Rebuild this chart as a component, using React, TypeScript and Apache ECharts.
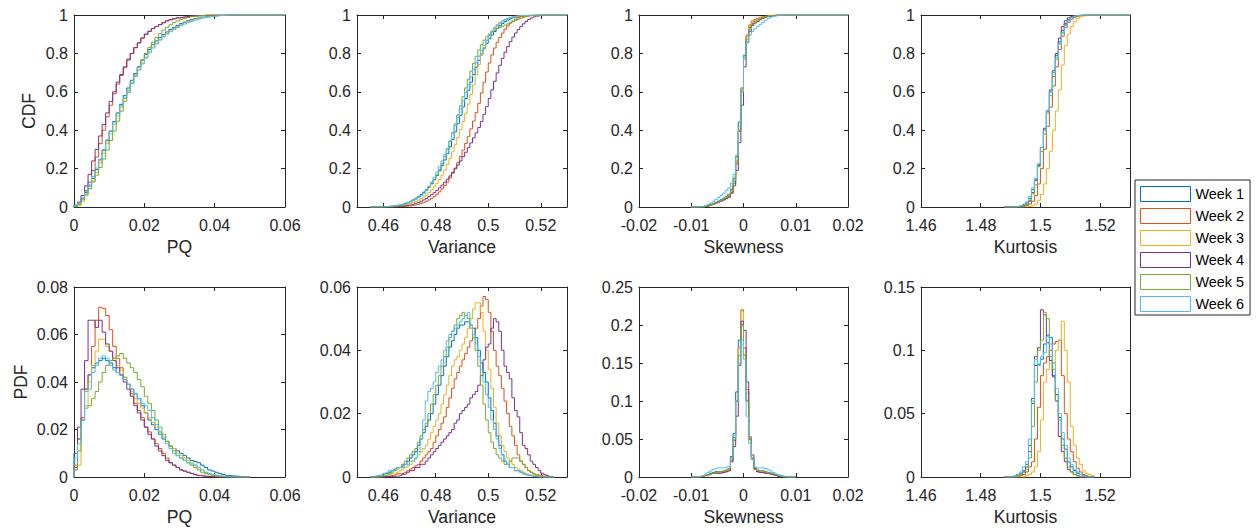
import React, { useEffect, useRef } from "react";
import * as echarts from "echarts";

// ---------- labels, colours, ticks ----------
const weekNames = ["Week 1", "Week 2", "Week 3", "Week 4", "Week 5", "Week 6"];
const weekColors = ["#0072BD", "#D95319", "#EDB120", "#7E2F8E", "#77AC30", "#4DBEEE"];
const metricNames = ["PQ", "Variance", "Skewness", "Kurtosis"];
const xMins = [0, 0.45, -0.02, 1.46];
const xMaxs = [0.06, 0.53, 0.02, 1.53];
const xTickValues = [
  [0, 0.02, 0.04, 0.06],
  [0.46, 0.48, 0.5, 0.52],
  [-0.02, -0.01, 0, 0.01, 0.02],
  [1.46, 1.48, 1.5, 1.52],
];
const cdfTickValues = [0, 0.2, 0.4, 0.6, 0.8, 1];
const pdfMaxs = [0.08, 0.06, 0.25, 0.15];
const pdfTickValues = [
  [0, 0.02, 0.04, 0.06, 0.08],
  [0, 0.02, 0.04, 0.06],
  [0, 0.05, 0.1, 0.15, 0.2, 0.25],
  [0, 0.05, 0.1, 0.15],
];
// histogram bins: first edge and width per metric
const binStarts = [0, 0.455, -0.01, 1.488];
const binWidths = [0.001, 0.001, 0.0005, 0.001];

// ---------- PQ ----------
const pqPdf = [
  [0.010, 0.016, 0.024, 0.037, 0.043, 0.046, 0.048, 0.049, 0.050, 0.049, 0.048, 0.046, 0.044, 0.043, 0.041, 0.039, 0.037, 0.035, 0.033, 0.030, 0.027, 0.024, 0.022, 0.020, 0.018, 0.016, 0.015, 0.013, 0.012, 0.011, 0.010, 0.009, 0.008, 0.007, 0.0065, 0.006, 0.005, 0.004, 0.003, 0.0025, 0.002, 0.0015, 0.001, 0.0007, 0.0005, 0.0004, 0.0003, 0.0002, 0.0001, 0.0001],
  [0.005, 0.016, 0.025, 0.037, 0.043, 0.055, 0.066, 0.0715, 0.071, 0.068, 0.062, 0.055, 0.050, 0.046, 0.042, 0.039, 0.035, 0.031, 0.028, 0.025, 0.021, 0.019, 0.016, 0.014, 0.012, 0.010, 0.008, 0.006, 0.005, 0.004, 0.003, 0.0025, 0.002, 0.0015, 0.001, 0.0007, 0.0005, 0.0003, 0.0002, 0.0001, 0.0001, 0, 0, 0, 0, 0, 0, 0, 0, 0],
  [0.003, 0.005, 0.024, 0.030, 0.040, 0.047, 0.053, 0.058, 0.058, 0.055, 0.053, 0.050, 0.047, 0.045, 0.042, 0.039, 0.036, 0.033, 0.031, 0.029, 0.027, 0.025, 0.023, 0.021, 0.019, 0.017, 0.015, 0.013, 0.012, 0.010, 0.009, 0.008, 0.007, 0.006, 0.005, 0.004, 0.003, 0.002, 0.0015, 0.001, 0.0008, 0.0005, 0.0003, 0.0002, 0.0001, 0.0001, 0, 0, 0, 0],
  [0.004, 0.021, 0.037, 0.049, 0.066, 0.066, 0.063, 0.066, 0.061, 0.056, 0.053, 0.049, 0.046, 0.043, 0.040, 0.037, 0.034, 0.030, 0.027, 0.024, 0.021, 0.018, 0.016, 0.013, 0.011, 0.009, 0.007, 0.006, 0.005, 0.004, 0.003, 0.0025, 0.002, 0.0015, 0.001, 0.0006, 0.0004, 0.0002, 0.0001, 0.0001, 0, 0, 0, 0, 0, 0, 0, 0, 0, 0],
  [0.003, 0.011, 0.024, 0.029, 0.030, 0.033, 0.036, 0.040, 0.044, 0.047, 0.049, 0.050, 0.051, 0.052, 0.050, 0.048, 0.046, 0.044, 0.041, 0.038, 0.034, 0.031, 0.028, 0.024, 0.021, 0.018, 0.015, 0.013, 0.011, 0.009, 0.008, 0.007, 0.006, 0.005, 0.004, 0.003, 0.002, 0.0015, 0.001, 0.0007, 0.0004, 0.0002, 0.0001, 0, 0, 0, 0, 0, 0, 0],
  [0.008, 0.014, 0.024, 0.036, 0.037, 0.044, 0.047, 0.050, 0.051, 0.050, 0.047, 0.045, 0.044, 0.043, 0.041, 0.039, 0.037, 0.035, 0.033, 0.031, 0.030, 0.028, 0.025, 0.022, 0.019, 0.016, 0.014, 0.012, 0.010, 0.009, 0.008, 0.007, 0.006, 0.0055, 0.005, 0.004, 0.003, 0.002, 0.0015, 0.001, 0.0007, 0.0004, 0.0002, 0.0001, 0, 0, 0, 0, 0, 0],
];
const pqCdf = [
  [0.01, 0.024, 0.045, 0.075, 0.11, 0.15, 0.195, 0.245, 0.295, 0.345, 0.395, 0.445, 0.49, 0.535, 0.58, 0.62, 0.66, 0.695, 0.73, 0.765, 0.795, 0.82, 0.845, 0.865, 0.882, 0.898, 0.912, 0.925, 0.936, 0.946, 0.955, 0.963, 0.97, 0.976, 0.981, 0.985, 0.989, 0.992, 0.994, 0.996, 0.997, 0.998, 0.999, 0.9995, 1],
  [0.005, 0.02, 0.045, 0.085, 0.13, 0.19, 0.26, 0.33, 0.40, 0.47, 0.53, 0.59, 0.64, 0.685, 0.725, 0.765, 0.80, 0.83, 0.855, 0.88, 0.90, 0.915, 0.93, 0.94, 0.95, 0.96, 0.97, 0.976, 0.981, 0.985, 0.988, 0.991, 0.993, 0.995, 0.996, 0.997, 0.998, 0.999, 0.9995, 1, 1, 1, 1, 1, 1],
  [0.003, 0.008, 0.03, 0.06, 0.095, 0.135, 0.18, 0.23, 0.28, 0.33, 0.38, 0.43, 0.475, 0.52, 0.565, 0.605, 0.645, 0.68, 0.715, 0.75, 0.78, 0.808, 0.832, 0.853, 0.872, 0.889, 0.904, 0.917, 0.929, 0.94, 0.95, 0.958, 0.966, 0.972, 0.978, 0.983, 0.987, 0.99, 0.993, 0.995, 0.997, 0.998, 0.999, 0.9995, 1],
  [0.005, 0.025, 0.06, 0.11, 0.17, 0.24, 0.30, 0.37, 0.43, 0.49, 0.55, 0.60, 0.65, 0.69, 0.73, 0.77, 0.80, 0.83, 0.855, 0.88, 0.90, 0.915, 0.93, 0.94, 0.95, 0.96, 0.97, 0.975, 0.98, 0.985, 0.988, 0.991, 0.993, 0.995, 0.996, 0.997, 0.998, 0.999, 0.9995, 1, 1, 1, 1, 1, 1],
  [0.003, 0.014, 0.038, 0.067, 0.097, 0.13, 0.166, 0.206, 0.25, 0.297, 0.346, 0.396, 0.447, 0.499, 0.549, 0.597, 0.643, 0.687, 0.728, 0.766, 0.80, 0.83, 0.858, 0.882, 0.903, 0.921, 0.936, 0.949, 0.96, 0.969, 0.976, 0.982, 0.987, 0.991, 0.994, 0.996, 0.998, 0.999, 0.9995, 1, 1, 1, 1, 1, 1],
  [0.008, 0.022, 0.046, 0.08, 0.115, 0.158, 0.203, 0.25, 0.3, 0.35, 0.397, 0.442, 0.486, 0.529, 0.57, 0.609, 0.646, 0.681, 0.714, 0.745, 0.775, 0.803, 0.828, 0.85, 0.869, 0.886, 0.9, 0.913, 0.925, 0.935, 0.945, 0.953, 0.96, 0.967, 0.973, 0.978, 0.983, 0.987, 0.99, 0.993, 0.995, 0.997, 0.998, 0.999, 1],
];

// ---------- Variance ----------
const varPdf = [
  [0, 0.0002, 0.0003, 0.0005, 0.0007, 0.001, 0.0012, 0.0015, 0.002, 0.0025, 0.003, 0.003, 0.0035, 0.004, 0.005, 0.006, 0.007, 0.008, 0.010, 0.012, 0.014, 0.016, 0.018, 0.020, 0.023, 0.026, 0.029, 0.032, 0.035, 0.038, 0.041, 0.043, 0.045, 0.047, 0.048, 0.048, 0.049, 0.049, 0.048, 0.047, 0.044, 0.040, 0.036, 0.033, 0.030, 0.025, 0.021, 0.017, 0.013, 0.010, 0.007, 0.005, 0.004, 0.003, 0.003, 0.002, 0.002, 0.0015, 0.001, 0.0008, 0.0005, 0.0003, 0.0002, 0, 0, 0, 0, 0, 0, 0],
  [0, 0, 0, 0, 0, 0.0002, 0.0003, 0.0004, 0.0005, 0.0007, 0.001, 0.001, 0.0012, 0.0015, 0.002, 0.0025, 0.003, 0.0035, 0.004, 0.005, 0.006, 0.007, 0.008, 0.009, 0.011, 0.013, 0.015, 0.017, 0.019, 0.022, 0.025, 0.028, 0.031, 0.033, 0.035, 0.037, 0.039, 0.041, 0.043, 0.045, 0.047, 0.050, 0.054, 0.057, 0.056, 0.052, 0.046, 0.040, 0.035, 0.032, 0.028, 0.024, 0.020, 0.016, 0.013, 0.010, 0.007, 0.005, 0.004, 0.003, 0.002, 0.0015, 0.001, 0.0007, 0.0005, 0.0003, 0.0002, 0, 0, 0],
  [0, 0, 0, 0, 0.0002, 0.0003, 0.0005, 0.0007, 0.001, 0.0012, 0.0015, 0.002, 0.0025, 0.003, 0.0035, 0.004, 0.005, 0.006, 0.007, 0.008, 0.009, 0.010, 0.012, 0.014, 0.016, 0.018, 0.020, 0.023, 0.026, 0.029, 0.032, 0.035, 0.037, 0.038, 0.040, 0.042, 0.044, 0.047, 0.050, 0.053, 0.055, 0.055, 0.052, 0.046, 0.040, 0.034, 0.028, 0.022, 0.017, 0.013, 0.010, 0.008, 0.006, 0.005, 0.004, 0.003, 0.0025, 0.002, 0.0015, 0.001, 0.0007, 0.0005, 0.0003, 0.0002, 0, 0, 0, 0, 0, 0],
  [0, 0, 0, 0, 0, 0.0001, 0.0001, 0.0002, 0.0002, 0.0003, 0.0003, 0.0005, 0.0008, 0.001, 0.0015, 0.002, 0.002, 0.003, 0.003, 0.004, 0.004, 0.005, 0.006, 0.007, 0.008, 0.009, 0.010, 0.011, 0.012, 0.013, 0.014, 0.015, 0.017, 0.018, 0.020, 0.021, 0.022, 0.023, 0.025, 0.026, 0.027, 0.029, 0.032, 0.037, 0.041, 0.042, 0.047, 0.050, 0.049, 0.046, 0.040, 0.035, 0.033, 0.031, 0.025, 0.021, 0.019, 0.014, 0.010, 0.009, 0.007, 0.005, 0.004, 0.003, 0.002, 0.0012, 0.0008, 0.0005, 0.0002, 0.0001],
  [0, 0, 0, 0.0002, 0.0003, 0.0005, 0.0007, 0.001, 0.0015, 0.002, 0.0025, 0.003, 0.004, 0.005, 0.006, 0.007, 0.008, 0.009, 0.011, 0.013, 0.015, 0.017, 0.020, 0.023, 0.026, 0.029, 0.032, 0.035, 0.038, 0.041, 0.044, 0.046, 0.048, 0.050, 0.051, 0.052, 0.051, 0.050, 0.047, 0.044, 0.040, 0.035, 0.029, 0.023, 0.018, 0.014, 0.011, 0.009, 0.007, 0.006, 0.005, 0.004, 0.004, 0.005, 0.006, 0.006, 0.006, 0.005, 0.004, 0.003, 0.002, 0.0015, 0.001, 0.0005, 0.0003, 0.0002, 0, 0, 0, 0],
  [0, 0, 0.0003, 0.0005, 0.0007, 0.001, 0.0015, 0.002, 0.002, 0.0025, 0.003, 0.003, 0.003, 0.004, 0.004, 0.005, 0.005, 0.006, 0.008, 0.012, 0.018, 0.024, 0.027, 0.028, 0.030, 0.033, 0.035, 0.037, 0.040, 0.043, 0.045, 0.046, 0.047, 0.048, 0.049, 0.050, 0.051, 0.052, 0.048, 0.045, 0.042, 0.038, 0.034, 0.030, 0.026, 0.022, 0.018, 0.015, 0.012, 0.009, 0.007, 0.005, 0.004, 0.003, 0.003, 0.002, 0.002, 0.0015, 0.001, 0.0007, 0.0005, 0.0003, 0.0002, 0, 0, 0, 0, 0, 0, 0],
];
const varCdf = [
  [0, 0.0002, 0.0005, 0.001, 0.0015, 0.002, 0.003, 0.004, 0.005, 0.007, 0.009, 0.012, 0.015, 0.019, 0.024, 0.030, 0.037, 0.045, 0.054, 0.065, 0.077, 0.09, 0.105, 0.122, 0.142, 0.164, 0.188, 0.215, 0.245, 0.278, 0.314, 0.352, 0.392, 0.434, 0.477, 0.521, 0.565, 0.608, 0.65, 0.69, 0.728, 0.764, 0.797, 0.827, 0.853, 0.876, 0.896, 0.914, 0.93, 0.944, 0.956, 0.966, 0.974, 0.98, 0.985, 0.989, 0.992, 0.994, 0.996, 0.997, 0.998, 0.999, 0.9995, 1, 1, 1, 1, 1, 1, 1],
  [0, 0, 0, 0, 0, 0, 0.0002, 0.0004, 0.0006, 0.001, 0.0015, 0.002, 0.003, 0.004, 0.005, 0.007, 0.009, 0.012, 0.015, 0.019, 0.024, 0.03, 0.037, 0.045, 0.055, 0.066, 0.079, 0.094, 0.111, 0.13, 0.152, 0.176, 0.203, 0.232, 0.263, 0.296, 0.331, 0.368, 0.407, 0.448, 0.492, 0.54, 0.594, 0.65, 0.703, 0.75, 0.792, 0.828, 0.858, 0.883, 0.906, 0.926, 0.944, 0.958, 0.969, 0.978, 0.985, 0.99, 0.993, 0.995, 0.997, 0.998, 0.999, 0.9995, 1, 1, 1, 1, 1, 1],
  [0, 0, 0, 0.0002, 0.0004, 0.0007, 0.001, 0.0015, 0.002, 0.003, 0.004, 0.006, 0.008, 0.011, 0.014, 0.018, 0.023, 0.029, 0.036, 0.044, 0.053, 0.063, 0.075, 0.089, 0.105, 0.123, 0.143, 0.166, 0.192, 0.221, 0.253, 0.288, 0.325, 0.363, 0.403, 0.445, 0.489, 0.536, 0.586, 0.637, 0.69, 0.742, 0.79, 0.832, 0.868, 0.896, 0.918, 0.936, 0.95, 0.961, 0.97, 0.977, 0.983, 0.987, 0.99, 0.993, 0.995, 0.996, 0.997, 0.998, 0.999, 0.9995, 1, 1, 1, 1, 1, 1, 1, 1],
  [0, 0, 0, 0, 0.0002, 0.0004, 0.0006, 0.001, 0.0015, 0.002, 0.003, 0.004, 0.005, 0.007, 0.009, 0.012, 0.015, 0.019, 0.024, 0.03, 0.037, 0.045, 0.054, 0.064, 0.075, 0.087, 0.1, 0.114, 0.129, 0.145, 0.162, 0.18, 0.199, 0.219, 0.24, 0.262, 0.285, 0.309, 0.334, 0.36, 0.386, 0.414, 0.446, 0.483, 0.523, 0.565, 0.61, 0.655, 0.698, 0.738, 0.774, 0.806, 0.835, 0.861, 0.885, 0.906, 0.924, 0.94, 0.954, 0.966, 0.976, 0.984, 0.99, 0.994, 0.997, 0.999, 1, 1, 1, 1],
  [0, 0, 0.0002, 0.0004, 0.0007, 0.001, 0.0015, 0.002, 0.003, 0.004, 0.006, 0.008, 0.011, 0.015, 0.020, 0.026, 0.033, 0.041, 0.050, 0.060, 0.072, 0.086, 0.102, 0.12, 0.142, 0.167, 0.195, 0.227, 0.262, 0.30, 0.342, 0.387, 0.433, 0.48, 0.527, 0.574, 0.62, 0.665, 0.708, 0.748, 0.785, 0.818, 0.846, 0.869, 0.887, 0.901, 0.912, 0.921, 0.929, 0.936, 0.942, 0.948, 0.954, 0.96, 0.966, 0.972, 0.978, 0.983, 0.988, 0.992, 0.995, 0.997, 0.998, 0.999, 1, 1, 1, 1, 1, 1],
  [0, 0.0003, 0.0006, 0.001, 0.0015, 0.002, 0.003, 0.004, 0.006, 0.008, 0.010, 0.013, 0.016, 0.020, 0.024, 0.029, 0.035, 0.042, 0.050, 0.060, 0.072, 0.088, 0.108, 0.13, 0.155, 0.182, 0.21, 0.24, 0.272, 0.307, 0.345, 0.385, 0.425, 0.467, 0.51, 0.553, 0.596, 0.638, 0.678, 0.716, 0.752, 0.785, 0.815, 0.843, 0.869, 0.892, 0.912, 0.93, 0.945, 0.958, 0.968, 0.977, 0.983, 0.988, 0.992, 0.995, 0.997, 0.998, 0.999, 1, 1, 1, 1, 1, 1, 1, 1, 1, 1, 1],
];

// ---------- Skewness ----------
const skewPdf = [
  [0, 0, 0, 0.0005, 0.001, 0.002, 0.003, 0.005, 0.006, 0.007, 0.007, 0.007, 0.008, 0.009, 0.011, 0.027, 0.057, 0.112, 0.180, 0.200, 0.160, 0.100, 0.050, 0.025, 0.012, 0.009, 0.008, 0.008, 0.007, 0.006, 0.005, 0.004, 0.003, 0.002, 0.001, 0.0005, 0, 0, 0, 0],
  [0, 0, 0, 0.0005, 0.001, 0.002, 0.003, 0.004, 0.005, 0.005, 0.005, 0.006, 0.006, 0.007, 0.009, 0.022, 0.048, 0.100, 0.170, 0.220, 0.170, 0.115, 0.053, 0.023, 0.010, 0.007, 0.006, 0.006, 0.005, 0.005, 0.004, 0.003, 0.002, 0.001, 0.0005, 0, 0, 0, 0, 0],
  [0, 0, 0, 0.0005, 0.001, 0.002, 0.003, 0.004, 0.005, 0.006, 0.006, 0.006, 0.007, 0.008, 0.010, 0.024, 0.050, 0.100, 0.170, 0.218, 0.170, 0.110, 0.050, 0.024, 0.011, 0.008, 0.007, 0.007, 0.006, 0.005, 0.004, 0.003, 0.002, 0.001, 0.0005, 0, 0, 0, 0, 0],
  [0, 0, 0, 0.0005, 0.001, 0.002, 0.003, 0.004, 0.005, 0.005, 0.005, 0.005, 0.006, 0.007, 0.008, 0.020, 0.040, 0.080, 0.147, 0.205, 0.193, 0.125, 0.050, 0.029, 0.011, 0.007, 0.006, 0.006, 0.005, 0.005, 0.004, 0.003, 0.002, 0.001, 0.0005, 0, 0, 0, 0, 0],
  [0, 0, 0, 0.0005, 0.001, 0.002, 0.003, 0.004, 0.005, 0.006, 0.007, 0.007, 0.008, 0.009, 0.011, 0.025, 0.052, 0.100, 0.160, 0.200, 0.160, 0.100, 0.050, 0.025, 0.012, 0.009, 0.008, 0.008, 0.007, 0.006, 0.005, 0.004, 0.003, 0.002, 0.001, 0.0005, 0, 0, 0, 0],
  [0, 0, 0.0005, 0.001, 0.002, 0.004, 0.006, 0.008, 0.010, 0.011, 0.012, 0.012, 0.012, 0.013, 0.014, 0.025, 0.050, 0.100, 0.150, 0.180, 0.155, 0.080, 0.044, 0.024, 0.013, 0.012, 0.012, 0.012, 0.011, 0.010, 0.008, 0.006, 0.004, 0.003, 0.002, 0.001, 0.0005, 0, 0, 0],
];
const skewCdf = [
  [0, 0, 0, 0.0005, 0.0015, 0.0035, 0.0065, 0.0115, 0.0175, 0.0245, 0.031, 0.038, 0.046, 0.055, 0.066, 0.093, 0.15, 0.262, 0.442, 0.62, 0.79, 0.89, 0.935, 0.957, 0.968, 0.975, 0.981, 0.987, 0.991, 0.994, 0.996, 0.998, 0.999, 0.9995, 1, 1, 1, 1, 1, 1],
  [0, 0, 0, 0.0005, 0.0015, 0.0035, 0.0065, 0.0105, 0.0155, 0.0205, 0.0255, 0.0315, 0.0375, 0.0445, 0.0535, 0.076, 0.124, 0.224, 0.394, 0.61, 0.78, 0.895, 0.948, 0.969, 0.977, 0.983, 0.988, 0.992, 0.995, 0.997, 0.998, 0.999, 0.9995, 1, 1, 1, 1, 1, 1, 1],
  [0, 0, 0, 0.0005, 0.0015, 0.0035, 0.0065, 0.0105, 0.0155, 0.0215, 0.0275, 0.0335, 0.0405, 0.0485, 0.0585, 0.082, 0.132, 0.232, 0.402, 0.615, 0.78, 0.89, 0.94, 0.962, 0.972, 0.979, 0.985, 0.99, 0.993, 0.996, 0.998, 0.999, 0.9995, 1, 1, 1, 1, 1, 1, 1],
  [0, 0, 0, 0.0005, 0.0015, 0.0035, 0.0065, 0.0105, 0.0155, 0.0205, 0.0255, 0.0305, 0.0365, 0.0435, 0.0515, 0.0715, 0.11, 0.19, 0.335, 0.53, 0.73, 0.86, 0.915, 0.945, 0.958, 0.967, 0.975, 0.982, 0.988, 0.992, 0.995, 0.997, 0.999, 1, 1, 1, 1, 1, 1, 1],
  [0, 0, 0, 0.0005, 0.0015, 0.0035, 0.0065, 0.0105, 0.0155, 0.0215, 0.0285, 0.0355, 0.0435, 0.0525, 0.0635, 0.088, 0.14, 0.24, 0.4, 0.6, 0.77, 0.875, 0.925, 0.95, 0.962, 0.971, 0.979, 0.986, 0.991, 0.994, 0.996, 0.998, 0.999, 0.9995, 1, 1, 1, 1, 1, 1],
  [0, 0, 0.0005, 0.0015, 0.0035, 0.0075, 0.013, 0.02, 0.03, 0.04, 0.05, 0.06, 0.072, 0.085, 0.1, 0.125, 0.17, 0.27, 0.42, 0.6, 0.78, 0.855, 0.895, 0.915, 0.928, 0.94, 0.951, 0.962, 0.972, 0.981, 0.988, 0.993, 0.996, 0.998, 0.999, 1, 1, 1, 1, 1],
];

// ---------- Kurtosis ----------
const kurtPdf = [
  [0, 0, 0.0005, 0.001, 0.002, 0.003, 0.005, 0.010, 0.025, 0.062, 0.088, 0.089, 0.093, 0.105, 0.112, 0.110, 0.080, 0.065, 0.047, 0.030, 0.022, 0.012, 0.008, 0.005, 0.003, 0.002, 0.001, 0, 0, 0],
  [0, 0, 0, 0, 0, 0.001, 0.002, 0.004, 0.008, 0.012, 0.030, 0.055, 0.080, 0.090, 0.095, 0.100, 0.105, 0.107, 0.108, 0.080, 0.050, 0.030, 0.020, 0.012, 0.007, 0.004, 0.002, 0.001, 0, 0],
  [0, 0, 0, 0, 0, 0, 0, 0.001, 0.002, 0.004, 0.008, 0.020, 0.045, 0.075, 0.085, 0.092, 0.090, 0.100, 0.108, 0.123, 0.100, 0.075, 0.040, 0.025, 0.015, 0.010, 0.005, 0.003, 0.002, 0.001],
  [0, 0, 0, 0, 0.001, 0.002, 0.004, 0.008, 0.020, 0.058, 0.095, 0.102, 0.132, 0.128, 0.106, 0.092, 0.079, 0.060, 0.032, 0.020, 0.012, 0.006, 0.004, 0.002, 0.001, 0, 0, 0, 0, 0],
  [0, 0, 0, 0, 0.001, 0.002, 0.004, 0.006, 0.015, 0.040, 0.075, 0.100, 0.108, 0.130, 0.125, 0.095, 0.085, 0.060, 0.045, 0.025, 0.015, 0.008, 0.004, 0.002, 0.001, 0, 0, 0, 0, 0],
  [0, 0, 0, 0.001, 0.002, 0.004, 0.008, 0.012, 0.030, 0.060, 0.093, 0.088, 0.095, 0.098, 0.111, 0.105, 0.090, 0.070, 0.050, 0.035, 0.025, 0.015, 0.010, 0.006, 0.004, 0.002, 0.001, 0, 0, 0],
];
const kurtCdf = [
  [0, 0, 0.0005, 0.0015, 0.0035, 0.0065, 0.012, 0.022, 0.045, 0.09, 0.14, 0.22, 0.31, 0.40, 0.50, 0.60, 0.70, 0.79, 0.86, 0.92, 0.955, 0.975, 0.987, 0.993, 0.996, 0.998, 0.999, 1, 1, 1],
  [0, 0, 0, 0, 0, 0.001, 0.003, 0.007, 0.015, 0.03, 0.06, 0.12, 0.2, 0.3, 0.42, 0.52, 0.63, 0.73, 0.82, 0.89, 0.935, 0.962, 0.978, 0.988, 0.994, 0.997, 0.999, 1, 1, 1],
  [0, 0, 0, 0, 0, 0, 0, 0.001, 0.003, 0.007, 0.015, 0.035, 0.065, 0.12, 0.2, 0.29, 0.4, 0.5, 0.61, 0.74, 0.84, 0.9, 0.94, 0.965, 0.98, 0.99, 0.995, 0.998, 0.999, 1],
  [0, 0, 0, 0, 0.001, 0.003, 0.007, 0.015, 0.035, 0.075, 0.14, 0.215, 0.31, 0.41, 0.50, 0.61, 0.71, 0.80, 0.88, 0.94, 0.97, 0.985, 0.993, 0.997, 0.999, 1, 1, 1, 1, 1],
  [0, 0, 0, 0, 0.001, 0.003, 0.007, 0.013, 0.028, 0.068, 0.115, 0.21, 0.29, 0.38, 0.49, 0.58, 0.68, 0.77, 0.85, 0.91, 0.95, 0.973, 0.987, 0.994, 0.997, 0.999, 1, 1, 1, 1],
  [0, 0, 0, 0.001, 0.003, 0.007, 0.015, 0.027, 0.055, 0.10, 0.15, 0.225, 0.31, 0.40, 0.50, 0.60, 0.70, 0.78, 0.85, 0.905, 0.945, 0.97, 0.985, 0.993, 0.997, 0.999, 1, 1, 1, 1],
];

const cdfData = [pqCdf, varCdf, skewCdf, kurtCdf];
const pdfData = [pqPdf, varPdf, skewPdf, kurtPdf];

// ---------- layout / style ----------
const FONT = "'Liberation Sans', Arial, Helvetica, sans-serif";
const AXIS_COLOR = "#262626";
const colLefts = [74, 357, 639, 921];
const colWidths = [211, 210, 209, 209];
const rowTops = [15, 287];
const rowHeights = [192, 190];

const fmt = (v: number) => String(parseFloat(Number(v).toFixed(4)));
const edge = (m: number, i: number) => parseFloat((binStarts[m] + i * binWidths[m]).toFixed(6));

// Stair outline of a histogram (value i drawn over bin i)
function stairs(values: number[], m: number, isCdf: boolean): number[][] {
  const pts: number[][] = [[edge(m, 0), 0]];
  values.forEach((v, i) => pts.push([edge(m, i), v]));
  const last = values[values.length - 1];
  pts.push([edge(m, values.length), last]);
  if (isCdf) pts.push([xMaxs[m], last]);
  else pts.push([edge(m, values.length), 0]);
  return pts;
}

function buildOption() {
  const grid: any[] = [];
  const xAxis: any[] = [];
  const yAxis: any[] = [];
  const series: any[] = [];

  const lineStyle = { color: AXIS_COLOR, width: 1 };
  for (let row = 0; row < 2; row++) {
    for (let m = 0; m < 4; m++) {
      const g = row * 4 + m;
      grid.push({ left: colLefts[m], top: rowTops[row], width: colWidths[m], height: rowHeights[row], containLabel: false });
      const yMax = row === 0 ? 1 : pdfMaxs[m];
      const yTicks = row === 0 ? cdfTickValues : pdfTickValues[m];
      const xt = xTickValues[m];
      // bottom x axis
      xAxis.push({
        type: "value", gridIndex: g, min: xMins[m], max: xMaxs[m], position: "bottom",
        axisLine: { show: true, onZero: false, lineStyle },
        axisTick: { show: true, inside: true, length: 4, customValues: xt, lineStyle },
        axisLabel: { show: true, customValues: xt, formatter: fmt, fontSize: 16, color: AXIS_COLOR, margin: 10, fontFamily: FONT },
        splitLine: { show: false },
        name: metricNames[m], nameLocation: "middle", nameGap: 31,
        nameTextStyle: { fontSize: 17.6, color: AXIS_COLOR, fontFamily: FONT },
      });
      // top x axis (box)
      xAxis.push({
        type: "value", gridIndex: g, min: xMins[m], max: xMaxs[m], position: "top",
        axisLine: { show: true, onZero: false, lineStyle },
        axisTick: { show: true, inside: true, length: 4, customValues: xt, lineStyle },
        axisLabel: { show: false },
        splitLine: { show: false },
      });
      // left y axis
      yAxis.push({
        type: "value", gridIndex: g, min: 0, max: yMax, position: "left",
        axisLine: { show: true, onZero: false, lineStyle },
        axisTick: { show: true, inside: true, length: 4, customValues: yTicks, lineStyle },
        axisLabel: { show: true, customValues: yTicks, formatter: fmt, fontSize: 16, color: AXIS_COLOR, margin: 6, fontFamily: FONT },
        splitLine: { show: false },
        name: m === 0 ? (row === 0 ? "CDF" : "PDF") : "",
        nameLocation: "middle", nameGap: row === 0 ? 36 : 44,
        nameTextStyle: { fontSize: 17.6, color: AXIS_COLOR, fontFamily: FONT },
      });
      // right y axis (box)
      yAxis.push({
        type: "value", gridIndex: g, min: 0, max: yMax, position: "right",
        axisLine: { show: true, onZero: false, lineStyle },
        axisTick: { show: true, inside: true, length: 4, customValues: yTicks, lineStyle },
        axisLabel: { show: false },
        splitLine: { show: false },
      });

      const src = row === 0 ? cdfData[m] : pdfData[m];
      src.forEach((vals, w) => {
        series.push({
          type: "line", name: weekNames[w],
          xAxisIndex: 2 * g, yAxisIndex: 2 * g,
          data: stairs(vals, m, row === 0),
          step: "end", symbol: "none", showSymbol: false, silent: true,
          lineStyle: { color: weekColors[w], width: 1 },
          itemStyle: { color: weekColors[w] },
          emphasis: { disabled: true },
          clip: true, z: 2 + w,
        });
      });
    }
  }

  return {
    animation: false,
    backgroundColor: "#ffffff",
    textStyle: { fontFamily: FONT },
    grid, xAxis, yAxis, series,
    legend: {
      orient: "vertical", left: 1135, top: 180,
      itemWidth: 50, itemHeight: 15, itemGap: 6,
      padding: [6, 6, 3, 5],
      backgroundColor: "#ffffff", borderColor: AXIS_COLOR, borderWidth: 1, borderRadius: 0,
      selectedMode: false,
      textStyle: { fontSize: 14.4, color: "#000000", fontFamily: FONT },
      data: weekNames.map((n, i) => ({
        name: n, icon: "rect",
        itemStyle: { color: "#ffffff", borderColor: weekColors[i], borderWidth: 1 },
      })),
    },
  };
}

export default function App() {
  const ref = useRef<HTMLDivElement>(null);
  useEffect(() => {
    document.body.style.margin = "0";
    if (!ref.current) return;
    const chart = echarts.init(ref.current, undefined, { renderer: "svg" });
    chart.setOption(buildOption() as any);
    return () => chart.dispose();
  }, []);
  return (
    <div
      ref={ref}
      style={{ position: "absolute", left: 0, top: 0, width: 1256, height: 530, background: "#fff" }}
    />
  );
}
